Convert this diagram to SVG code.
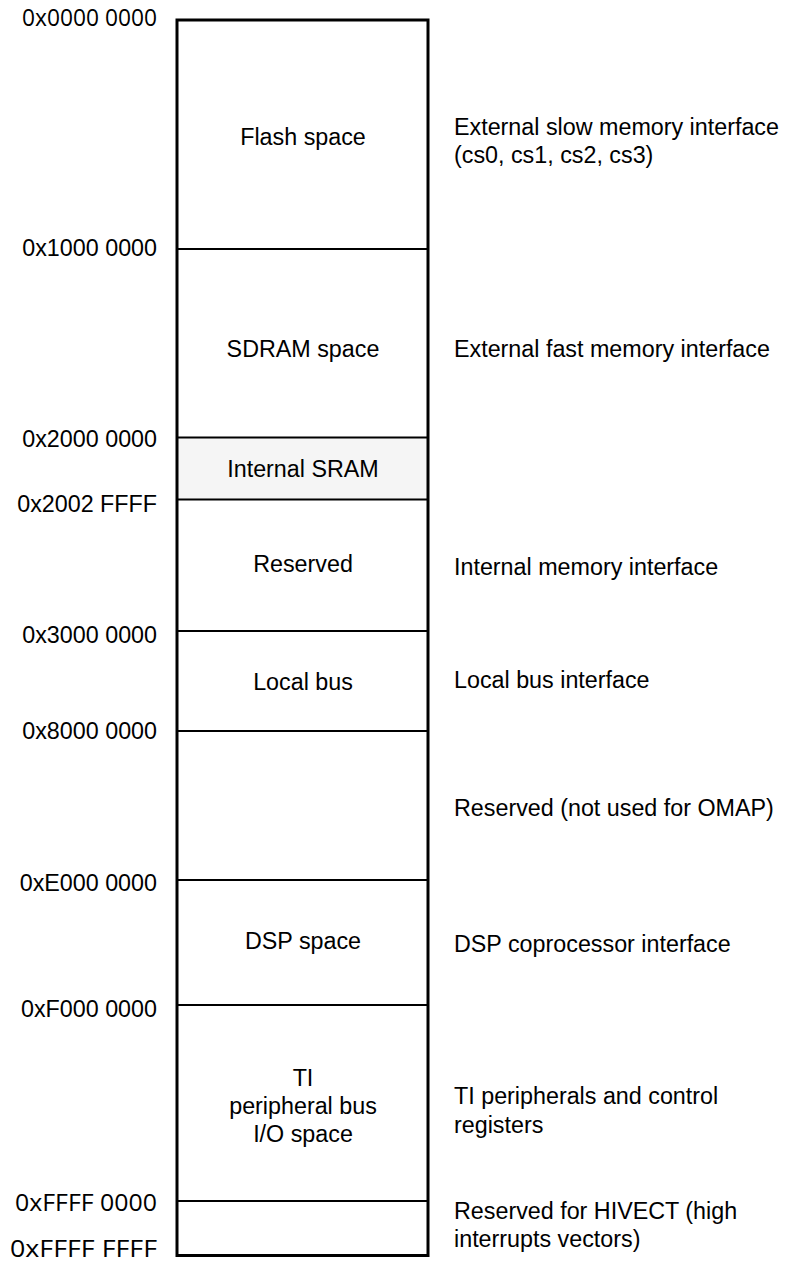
<svg xmlns="http://www.w3.org/2000/svg" width="790" height="1264" viewBox="0 0 790 1264">
<style>
text { font-family: "Liberation Sans", Arial, sans-serif; font-size: 23.3px; fill: #000; }
.addr { text-anchor: end; }
.alt { font-family: "Open Sans", "DejaVu Sans", sans-serif; font-size: 24px; }
.mid { text-anchor: middle; }
.div { stroke: #000; stroke-width: 2; }
</style>
<rect x="0" y="0" width="790" height="1264" fill="#fff"/>
<g id="sram-fill"><rect x="178" y="437.5" width="249" height="62" fill="#f5f5f5"/></g>
<g id="memory-map">
<rect x="177" y="20" width="251" height="1235.5" fill="none" stroke="#000" stroke-width="3"/>
</g>
<g id="connectors">
<line class="div" x1="178" y1="249" x2="427" y2="249"/>
<line class="div" x1="178" y1="437.5" x2="427" y2="437.5"/>
<line class="div" x1="178" y1="499.5" x2="427" y2="499.5"/>
<line class="div" x1="178" y1="631" x2="427" y2="631"/>
<line class="div" x1="178" y1="731" x2="427" y2="731"/>
<line class="div" x1="178" y1="880" x2="427" y2="880"/>
<line class="div" x1="178" y1="1005" x2="427" y2="1005"/>
<line class="div" x1="178" y1="1201" x2="427" y2="1201"/>
</g>
<g id="addresses">
<text class="addr alt" x="157" y="26" textLength="135" lengthAdjust="spacingAndGlyphs">0x0000 0000</text>
<text class="addr" x="157" y="256">0x1000 0000</text>
<text class="addr" x="157" y="447">0x2000 0000</text>
<text class="addr" x="157" y="512">0x2002 FFFF</text>
<text class="addr" x="157" y="643">0x3000 0000</text>
<text class="addr" x="157" y="739">0x8000 0000</text>
<text class="addr" x="157" y="891">0xE000 0000</text>
<text class="addr" x="157" y="1017">0xF000 0000</text>
<text class="addr alt" x="157" y="1211" textLength="142" lengthAdjust="spacingAndGlyphs">0xFFFF 0000</text>
<text class="addr alt" x="157" y="1257" textLength="147" lengthAdjust="spacingAndGlyphs">0xFFFF FFFF</text>
</g>
<g id="flash"><text class="mid" x="303" y="145">Flash space</text></g>
<g id="sdram"><text class="mid" x="303" y="357">SDRAM space</text></g>
<g id="sram"><text class="mid" x="303" y="477">Internal SRAM</text></g>
<g id="reserved"><text class="mid" x="303" y="572">Reserved</text></g>
<g id="localbus"><text class="mid" x="303" y="690">Local bus</text></g>
<g id="dsp"><text class="mid" x="303" y="949">DSP space</text></g>
<g id="ti"><text class="mid" x="303" y="1086">TI</text><text class="mid" x="303" y="1114">peripheral bus</text><text class="mid" x="303" y="1142">I/O space</text></g>
<g id="descriptions">
<text x="454" y="135">External slow memory interface</text>
<text x="454" y="163">(cs0, cs1, cs2, cs3)</text>
<text x="454" y="357">External fast memory interface</text>
<text x="454" y="575">Internal memory interface</text>
<text x="454" y="688">Local bus interface</text>
<text x="454" y="816">Reserved (not used for OMAP)</text>
<text x="454" y="952">DSP coprocessor interface</text>
<text x="454" y="1104">TI peripherals and control</text>
<text x="454" y="1133">registers</text>
<text x="454" y="1219">Reserved for HIVECT (high</text>
<text x="454" y="1247">interrupts vectors)</text>
</g>
</svg>
